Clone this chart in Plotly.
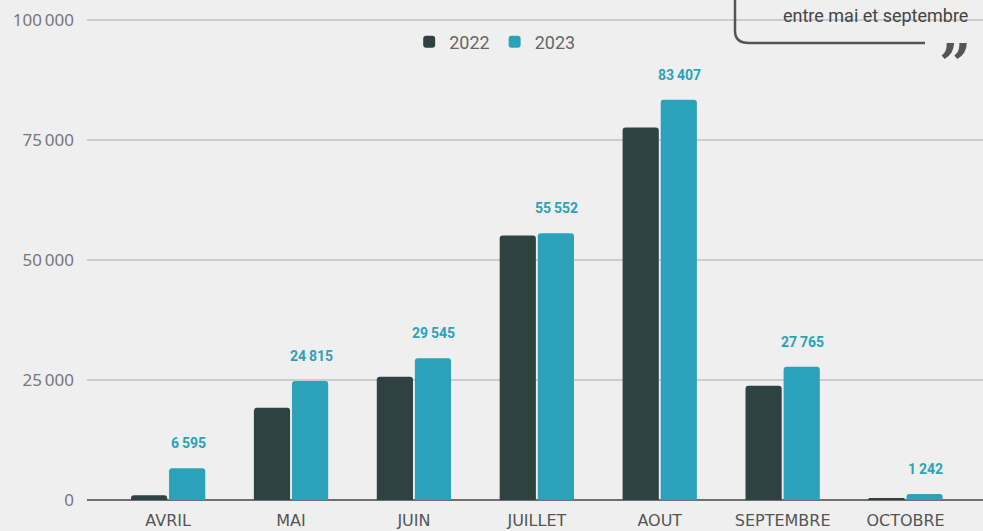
import plotly.graph_objects as go

months = ["AVRIL", "MAI", "JUIN", "JUILLET", "AOUT", "SEPTEMBRE", "OCTOBRE"]
v2022 = [1000, 19200, 25700, 55100, 77600, 23800, 400]
v2023 = [6595, 24815, 29545, 55552, 83407, 27765, 1242]
labels2023 = ["6\u2009595", "24\u2009815", "29\u2009545", "55\u2009552", "83\u2009407", "27\u2009765", "1\u2009242"]
yticks = [0, 25000, 50000, 75000, 100000]
yticktext = ["0", "25\u2009000", "50\u2009000", "75\u2009000", "100\u2009000"]

C22 = "#2f4241"
C23 = "#2ba2ba"
BG = "#efefef"

fig = go.Figure()
fig.add_trace(go.Bar(x=months, y=v2022, name="2022", marker=dict(color=C22, line=dict(width=0))))
fig.add_trace(go.Bar(x=months, y=v2023, name="2023", marker=dict(color=C23, line=dict(width=0))))

for m, v, t in zip(months, v2023, labels2023):
    fig.add_annotation(x=m, y=v, text=f"<b>{t}</b>", showarrow=False, xshift=20, yshift=15,
                       yanchor="bottom", font=dict(family="Roboto", size=14, color=C23))

YMAX = 500 / 4.8 * 1000  # top of page in data units

def ypx(px):
    return (500 - px) / 4.8 * 1000

def xp(px):
    return (px - 87) / 896

x1, x2 = xp(735), xp(925)
r = xp(749) - x1
path = (f"M {x1},{ypx(-5)} L {x1},{ypx(31)} Q {x1},{ypx(43)} {x1 + r},{ypx(43)} L {x2},{ypx(43)}")
fig.add_shape(type="path", path=path, xref="paper", yref="y",
              line=dict(color="#555555", width=2.5))
fig.add_annotation(x=xp(970), y=ypx(15), xref="paper", yref="y", text="entre mai et septembre",
                   showarrow=False, xanchor="right", yanchor="middle",
                   font=dict(family="Liberation Sans Narrow, Roboto", size=18, color="#444444"))
fig.add_annotation(x=xp(955), y=ypx(64), xref="paper", yref="y", text="<b>\u201d</b>",
                   showarrow=False, xanchor="center", yanchor="middle",
                   font=dict(family="DejaVu Serif", size=56, color="#555555"))

fig.update_layout(
    width=983, height=531,
    margin=dict(l=87, r=0, t=0, b=31),
    paper_bgcolor=BG, plot_bgcolor=BG,
    barmode="group", bargap=0.38, bargroupgap=0.05, barcornerradius=3,
    font=dict(family="Noto Sans", color="#777777", size=15),
    legend=dict(orientation="h", x=0.455, y=0.916, xanchor="center", yanchor="middle",
                font=dict(family="Roboto", size=18, color="#666666"), bgcolor="rgba(0,0,0,0)"),
    showlegend=True,
)
fig.update_xaxes(range=[-0.66, 6.63], showgrid=False, ticks="", ticklabelstandoff=9,
                 tickfont=dict(family="DejaVu Sans", size=16, color="#555555"),
                 showline=False, zeroline=False)
fig.update_yaxes(range=[0, YMAX], tickvals=yticks, ticktext=yticktext, showgrid=True,
                 gridcolor="#cccccc", gridwidth=1.5, zeroline=True, zerolinecolor="#6f6f6f",
                 zerolinewidth=2, ticklabelstandoff=12, showline=False,
                 tickfont=dict(family="Noto Sans", size=17, color="#777777"))

fig.write_html("out.html", config={"displayModeBar": False},
               post_script="document.body.style.margin='0';document.body.style.overflow='hidden';")
